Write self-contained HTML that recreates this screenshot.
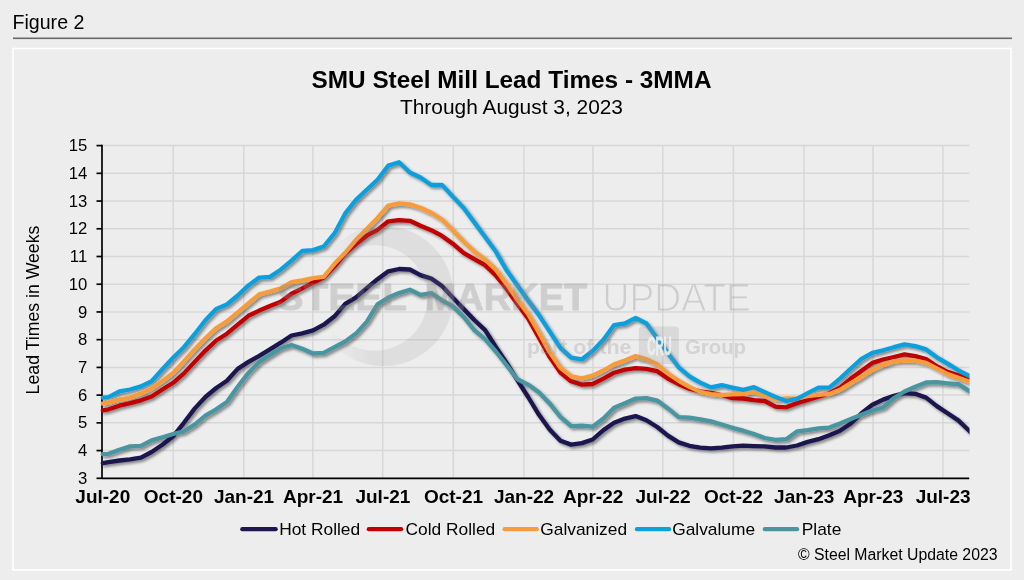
<!DOCTYPE html>
<html lang="en"><head><meta charset="utf-8"><title>Figure 2 - SMU Steel Mill Lead Times</title>
<style>
html,body{margin:0;padding:0;background:#ededed;}
body{width:1024px;height:580px;overflow:hidden;font-family:"Liberation Sans",Arial,sans-serif;}
svg{display:block;will-change:transform}
svg text{font-family:"Liberation Sans",Arial,sans-serif}
</style></head><body>
<svg width="1024" height="580" viewBox="0 0 1024 580">
<defs>
<filter id="sh" x="-5%" y="-5%" width="110%" height="115%"><feGaussianBlur in="SourceAlpha" stdDeviation="1.8"/><feOffset dx="1.7" dy="2.4"/><feComponentTransfer><feFuncA type="linear" slope="0.45"/></feComponentTransfer><feMerge><feMergeNode/><feMergeNode in="SourceGraphic"/></feMerge></filter>
</defs>
<rect x="0" y="0" width="1024" height="580" fill="#ededed"/>
<text x="12.5" y="28.5" font-size="19.6">Figure 2</text>
<rect x="13" y="37.5" width="999" height="1.6" fill="#6a6a6a"/>
<rect x="13" y="48.5" width="998" height="521.5" fill="#ededed" stroke="#ffffff" stroke-width="1.6"/>
<text x="511.5" y="88" font-size="24.35" font-weight="bold" text-anchor="middle">SMU Steel Mill Lead Times - 3MMA</text>
<text x="511.5" y="113.8" font-size="20.9" text-anchor="middle">Through August 3, 2023</text>
<g stroke="#d7d7d7" stroke-width="1.5" fill="none"><line x1="102.0" x2="969.2" y1="450.57" y2="450.57"/><line x1="102.0" x2="969.2" y1="422.85" y2="422.85"/><line x1="102.0" x2="969.2" y1="395.12" y2="395.12"/><line x1="102.0" x2="969.2" y1="367.40" y2="367.40"/><line x1="102.0" x2="969.2" y1="339.67" y2="339.67"/><line x1="102.0" x2="969.2" y1="311.95" y2="311.95"/><line x1="102.0" x2="969.2" y1="284.22" y2="284.22"/><line x1="102.0" x2="969.2" y1="256.50" y2="256.50"/><line x1="102.0" x2="969.2" y1="228.78" y2="228.78"/><line x1="102.0" x2="969.2" y1="201.05" y2="201.05"/><line x1="102.0" x2="969.2" y1="173.32" y2="173.32"/><line x1="102.0" x2="969.2" y1="145.60" y2="145.60"/><line x1="173.20" x2="173.20" y1="145.6" y2="478.3"/><line x1="243.80" x2="243.80" y1="145.6" y2="478.3"/><line x1="312.87" x2="312.87" y1="145.6" y2="478.3"/><line x1="382.70" x2="382.70" y1="145.6" y2="478.3"/><line x1="453.30" x2="453.30" y1="145.6" y2="478.3"/><line x1="523.90" x2="523.90" y1="145.6" y2="478.3"/><line x1="592.97" x2="592.97" y1="145.6" y2="478.3"/><line x1="662.80" x2="662.80" y1="145.6" y2="478.3"/><line x1="733.40" x2="733.40" y1="145.6" y2="478.3"/><line x1="804.00" x2="804.00" y1="145.6" y2="478.3"/><line x1="873.07" x2="873.07" y1="145.6" y2="478.3"/><line x1="942.90" x2="942.90" y1="145.6" y2="478.3"/></g>
<g stroke="#000" stroke-width="1.7" fill="none"><line x1="96.5" x2="102.0" y1="478.30" y2="478.30"/><line x1="96.5" x2="102.0" y1="450.57" y2="450.57"/><line x1="96.5" x2="102.0" y1="422.85" y2="422.85"/><line x1="96.5" x2="102.0" y1="395.12" y2="395.12"/><line x1="96.5" x2="102.0" y1="367.40" y2="367.40"/><line x1="96.5" x2="102.0" y1="339.67" y2="339.67"/><line x1="96.5" x2="102.0" y1="311.95" y2="311.95"/><line x1="96.5" x2="102.0" y1="284.22" y2="284.22"/><line x1="96.5" x2="102.0" y1="256.50" y2="256.50"/><line x1="96.5" x2="102.0" y1="228.78" y2="228.78"/><line x1="96.5" x2="102.0" y1="201.05" y2="201.05"/><line x1="96.5" x2="102.0" y1="173.32" y2="173.32"/><line x1="96.5" x2="102.0" y1="145.60" y2="145.60"/><line x1="102.0" x2="102.0" y1="144.85" y2="479.05"/><line x1="102.0" x2="969.2" y1="478.3" y2="478.3"/></g>
<g font-size="16.7"><text x="87.2" y="483.90" text-anchor="end">3</text><text x="87.2" y="456.18" text-anchor="end">4</text><text x="87.2" y="428.45" text-anchor="end">5</text><text x="87.2" y="400.73" text-anchor="end">6</text><text x="87.2" y="373.00" text-anchor="end">7</text><text x="87.2" y="345.27" text-anchor="end">8</text><text x="87.2" y="317.55" text-anchor="end">9</text><text x="87.2" y="289.82" text-anchor="end">10</text><text x="87.2" y="262.10" text-anchor="end">11</text><text x="87.2" y="234.38" text-anchor="end">12</text><text x="87.2" y="206.65" text-anchor="end">13</text><text x="87.2" y="178.92" text-anchor="end">14</text><text x="87.2" y="151.20" text-anchor="end">15</text></g>
<text transform="translate(38.5,310) rotate(-90)" font-size="17.7" text-anchor="middle">Lead Times in Weeks</text>
<g font-size="19" font-weight="bold"><text x="102.8" y="502.6" text-anchor="middle">Jul-20</text><text x="173.4" y="502.6" text-anchor="middle">Oct-20</text><text x="244.0" y="502.6" text-anchor="middle">Jan-21</text><text x="313.1" y="502.6" text-anchor="middle">Apr-21</text><text x="382.9" y="502.6" text-anchor="middle">Jul-21</text><text x="453.5" y="502.6" text-anchor="middle">Oct-21</text><text x="524.1" y="502.6" text-anchor="middle">Jan-22</text><text x="593.2" y="502.6" text-anchor="middle">Apr-22</text><text x="663.0" y="502.6" text-anchor="middle">Jul-22</text><text x="733.6" y="502.6" text-anchor="middle">Oct-22</text><text x="804.2" y="502.6" text-anchor="middle">Jan-23</text><text x="873.3" y="502.6" text-anchor="middle">Apr-23</text><text x="943.1" y="502.6" text-anchor="middle">Jul-23</text></g>
<clipPath id="plotclip"><rect x="96" y="130" width="873.6" height="360"/></clipPath>
<g clip-path="url(#plotclip)"><g fill="none" stroke-width="4.3" stroke-linejoin="round" stroke-linecap="round" filter="url(#sh)"><polyline points="102.8,463.2 108.6,462.1 119.4,460.5 130.1,459.4 140.9,457.6 151.6,452.0 162.4,444.8 173.1,436.3 183.9,422.8 194.6,408.6 205.4,397.0 216.2,388.0 226.9,380.8 237.7,368.9 248.4,361.9 259.2,355.9 269.9,349.4 280.7,342.7 291.5,335.5 302.2,333.3 313.0,330.4 323.7,324.7 334.5,316.3 345.2,303.9 356.0,297.4 366.7,288.2 377.5,279.2 388.3,271.3 399.0,269.0 409.8,269.5 420.5,275.1 431.3,278.5 442.0,285.9 452.8,297.6 463.5,308.8 474.3,320.0 485.1,330.1 495.8,347.0 506.6,362.9 517.3,380.2 528.1,397.0 538.8,414.6 549.6,429.4 560.4,440.8 571.1,444.6 581.9,443.1 592.6,439.5 603.4,430.1 614.1,422.8 624.9,418.6 635.6,416.1 646.4,420.2 657.2,427.0 667.9,435.6 678.7,442.4 689.4,445.8 700.2,447.6 710.9,448.4 721.7,447.7 732.4,446.4 743.2,445.6 754.0,446.1 764.7,446.4 775.5,447.5 786.2,447.5 797.0,445.5 807.7,441.9 818.5,439.2 829.3,435.2 840.0,430.7 850.8,423.5 861.5,413.2 872.3,404.7 883.0,399.6 893.8,395.9 904.5,393.1 915.3,393.8 926.1,397.6 936.8,406.1 947.6,413.3 958.3,420.4 969.1,430.8 975.1,436.6" stroke="#1f1650"/><polyline points="102.8,410.4 108.6,409.3 119.4,405.7 130.1,403.2 140.9,400.3 151.6,396.5 162.4,389.5 173.1,382.8 183.9,373.4 194.6,361.9 205.4,350.6 216.2,340.5 226.9,333.7 237.7,324.7 248.4,315.8 259.2,310.6 269.9,306.1 280.7,301.8 291.5,293.7 302.2,288.4 313.0,282.7 323.7,277.6 334.5,266.3 345.2,253.7 356.0,244.1 366.7,235.7 377.5,229.9 388.3,221.3 399.0,220.1 409.8,220.8 420.5,225.8 431.3,230.2 442.0,235.9 452.8,243.7 463.5,252.9 474.3,259.2 485.1,265.1 495.8,275.4 506.6,289.0 517.3,303.9 528.1,318.4 538.8,337.4 549.6,356.9 560.4,372.6 571.1,381.3 581.9,384.6 592.6,384.0 603.4,378.6 614.1,372.7 624.9,369.6 635.6,368.2 646.4,368.9 657.2,371.2 667.9,378.6 678.7,384.2 689.4,388.7 700.2,391.4 710.9,392.8 721.7,395.0 732.4,398.2 743.2,398.5 754.0,400.1 764.7,401.0 775.5,406.7 786.2,407.3 797.0,403.3 807.7,399.9 818.5,396.6 829.3,393.2 840.0,387.6 850.8,378.6 861.5,370.7 872.3,362.9 883.0,359.5 893.8,357.0 904.5,354.4 915.3,356.1 926.1,359.1 936.8,366.2 947.6,371.8 958.3,375.2 969.1,379.7 975.1,382.2" stroke="#c00000"/><polyline points="102.8,403.5 108.6,402.6 119.4,399.6 130.1,397.6 140.9,393.6 151.6,388.6 162.4,381.2 173.1,372.9 183.9,361.4 194.6,349.4 205.4,338.2 216.2,328.1 226.9,321.4 237.7,312.4 248.4,303.4 259.2,294.4 269.9,291.5 280.7,288.4 291.5,282.1 302.2,280.3 313.0,278.2 323.7,276.9 334.5,263.8 345.2,252.8 356.0,239.9 366.7,228.9 377.5,217.9 388.3,205.5 399.0,203.3 409.8,204.4 420.5,207.8 431.3,212.7 442.0,219.5 452.8,230.2 463.5,241.5 474.3,251.4 485.1,259.4 495.8,269.6 506.6,284.1 517.3,299.4 528.1,314.0 538.8,332.4 549.6,352.1 560.4,367.7 571.1,376.3 581.9,378.3 592.6,375.6 603.4,370.5 614.1,364.4 624.9,360.6 635.6,356.1 646.4,359.3 657.2,364.4 667.9,373.4 678.7,380.8 689.4,386.9 700.2,391.9 710.9,394.1 721.7,395.0 732.4,394.3 743.2,393.9 754.0,392.0 764.7,395.4 775.5,399.3 786.2,398.4 797.0,398.4 807.7,396.1 818.5,394.8 829.3,393.9 840.0,389.8 850.8,383.1 861.5,376.8 872.3,369.9 883.0,365.1 893.8,361.4 904.5,360.4 915.3,360.6 926.1,362.9 936.8,368.4 947.6,374.1 958.3,377.9 969.1,381.5 975.1,383.5" stroke="#f79c3c"/><polyline points="102.8,397.6 108.6,397.2 119.4,391.3 130.1,389.5 140.9,386.4 151.6,381.2 162.4,369.3 173.1,357.7 183.9,347.2 194.6,334.2 205.4,320.2 216.2,309.0 226.9,304.5 237.7,295.5 248.4,285.4 259.2,277.6 269.9,276.9 280.7,269.7 291.5,260.7 302.2,251.0 313.0,250.1 323.7,246.5 334.5,233.4 345.2,213.4 356.0,199.9 366.7,189.8 377.5,179.7 388.3,165.6 399.0,162.2 409.8,172.5 420.5,177.5 431.3,184.9 442.0,184.9 452.8,196.6 463.5,207.8 474.3,222.4 485.1,237.0 495.8,251.6 506.6,270.3 517.3,285.2 528.1,300.4 538.8,314.9 549.6,331.4 560.4,347.9 571.1,357.7 581.9,359.3 592.6,350.9 603.4,339.7 614.1,325.1 624.9,323.5 635.6,317.9 646.4,323.5 657.2,338.6 667.9,353.2 678.7,367.3 689.4,376.4 700.2,382.6 710.9,387.4 721.7,385.2 732.4,387.7 743.2,389.9 754.0,387.2 764.7,392.1 775.5,397.0 786.2,401.0 797.0,398.8 807.7,393.2 818.5,387.6 829.3,387.6 840.0,378.6 850.8,368.5 861.5,358.9 872.3,352.8 883.0,350.3 893.8,347.2 904.5,344.4 915.3,346.1 926.1,349.4 936.8,357.3 947.6,363.6 958.3,370.3 969.1,375.9 975.1,379.0" stroke="#119fdc"/><polyline points="102.8,454.2 108.6,453.8 119.4,449.7 130.1,446.4 140.9,445.9 151.6,440.3 162.4,437.4 173.1,434.0 183.9,431.3 194.6,424.6 205.4,415.6 216.2,409.3 226.9,401.9 237.7,386.8 248.4,372.9 259.2,361.9 269.9,354.9 280.7,348.3 291.5,345.0 302.2,348.8 313.0,353.5 323.7,352.8 334.5,347.1 345.2,341.5 356.0,333.6 366.7,321.9 377.5,304.4 388.3,297.6 399.0,293.1 409.8,289.7 420.5,294.9 431.3,293.1 442.0,300.3 452.8,306.1 463.5,316.7 474.3,330.1 485.1,339.1 495.8,351.5 506.6,365.2 517.3,379.3 528.1,384.6 538.8,392.2 549.6,403.4 560.4,416.9 571.1,426.2 581.9,425.6 592.6,426.7 603.4,418.5 614.1,407.7 624.9,403.2 635.6,398.6 646.4,398.1 657.2,400.6 667.9,408.4 678.7,417.1 689.4,417.7 700.2,419.4 710.9,421.4 721.7,424.5 732.4,427.8 743.2,430.7 754.0,434.0 764.7,438.0 775.5,439.9 786.2,439.2 797.0,431.4 807.7,430.2 818.5,428.4 829.3,427.6 840.0,423.5 850.8,419.0 861.5,414.8 872.3,410.5 883.0,407.5 893.8,398.2 904.5,391.5 915.3,386.7 926.1,382.5 936.8,382.2 947.6,383.3 958.3,384.2 969.1,390.9 975.1,394.6" stroke="#4a96a0"/></g></g>
<defs>
<linearGradient id="wfade" gradientUnits="userSpaceOnUse" x1="328" y1="0" x2="370" y2="0"><stop offset="0" stop-color="#fff" stop-opacity="0"/><stop offset="1" stop-color="#fff" stop-opacity="1"/></linearGradient>
<mask id="wmask" maskUnits="userSpaceOnUse" x="300" y="215" width="170" height="165"><rect x="300" y="215" width="170" height="165" fill="url(#wfade)"/></mask>
<mask id="thinmask" maskUnits="userSpaceOnUse" x="595" y="275" width="165" height="45"><text x="602.6" y="311.2" font-size="38.6" fill="#fff" stroke="#000" stroke-width="1.15" textLength="148.2" lengthAdjust="spacingAndGlyphs">UPDATE</text></mask>
</defs>
<g id="watermark" fill="#8a8a8a">
<path mask="url(#wmask)" fill-opacity="0.15" fill-rule="evenodd" d="M313.4,296a70,70 0 1,0 140,0a70,70 0 1,0 -140,0Z M321.5,298a53,52.8 0 1,0 106,0a53,52.8 0 1,0 -106,0Z"/>
<g font-size="36.6" font-weight="bold" opacity="0.30" stroke="#8a8a8a" stroke-width="0.9" stroke-linejoin="round">
<text x="276.4" y="310.3" textLength="130.6" lengthAdjust="spacingAndGlyphs">STEEL</text>
<text x="424.7" y="310.3" textLength="162.6" lengthAdjust="spacingAndGlyphs">MARKET</text>
</g>
<rect x="595" y="275" width="165" height="45" fill-opacity="0.32" mask="url(#thinmask)"/>
<text x="527" y="354" font-size="20.5" font-weight="bold" fill-opacity="0.26" textLength="104.5" lengthAdjust="spacingAndGlyphs">part of the</text>
<rect x="638.8" y="326.5" width="40" height="37.5" rx="3.5" fill-opacity="0.2"/>
<text x="647.3" y="355" font-size="26" font-weight="bold" fill="#f0f0f0" stroke="#f0f0f0" stroke-width="0.8" opacity="0.9" textLength="24.4" lengthAdjust="spacingAndGlyphs">CRU</text>
<text x="685" y="354" font-size="20.5" font-weight="bold" fill-opacity="0.26" textLength="61" lengthAdjust="spacingAndGlyphs">Group</text>
</g>
<g><line x1="242.3" x2="275.7" y1="529.2" y2="529.2" stroke="#1f1650" stroke-width="4.2" stroke-linecap="round"/><text x="279.2" y="534.6" font-size="17.35">Hot Rolled</text><line x1="368.8" x2="401.1" y1="529.2" y2="529.2" stroke="#c00000" stroke-width="4.2" stroke-linecap="round"/><text x="405.6" y="534.6" font-size="17.35">Cold Rolled</text><line x1="504.6" x2="536.8" y1="529.2" y2="529.2" stroke="#f79c3c" stroke-width="4.2" stroke-linecap="round"/><text x="540.3" y="534.6" font-size="17.35">Galvanized</text><line x1="636.9" x2="669.1" y1="529.2" y2="529.2" stroke="#119fdc" stroke-width="4.2" stroke-linecap="round"/><text x="672.2" y="534.6" font-size="17.35">Galvalume</text><line x1="764.8" x2="797.1" y1="529.2" y2="529.2" stroke="#4a96a0" stroke-width="4.2" stroke-linecap="round"/><text x="801.8" y="534.6" font-size="17.35">Plate</text></g>
<text x="997.5" y="560.2" font-size="15.8" text-anchor="end">© Steel Market Update 2023</text>
</svg></body></html>
